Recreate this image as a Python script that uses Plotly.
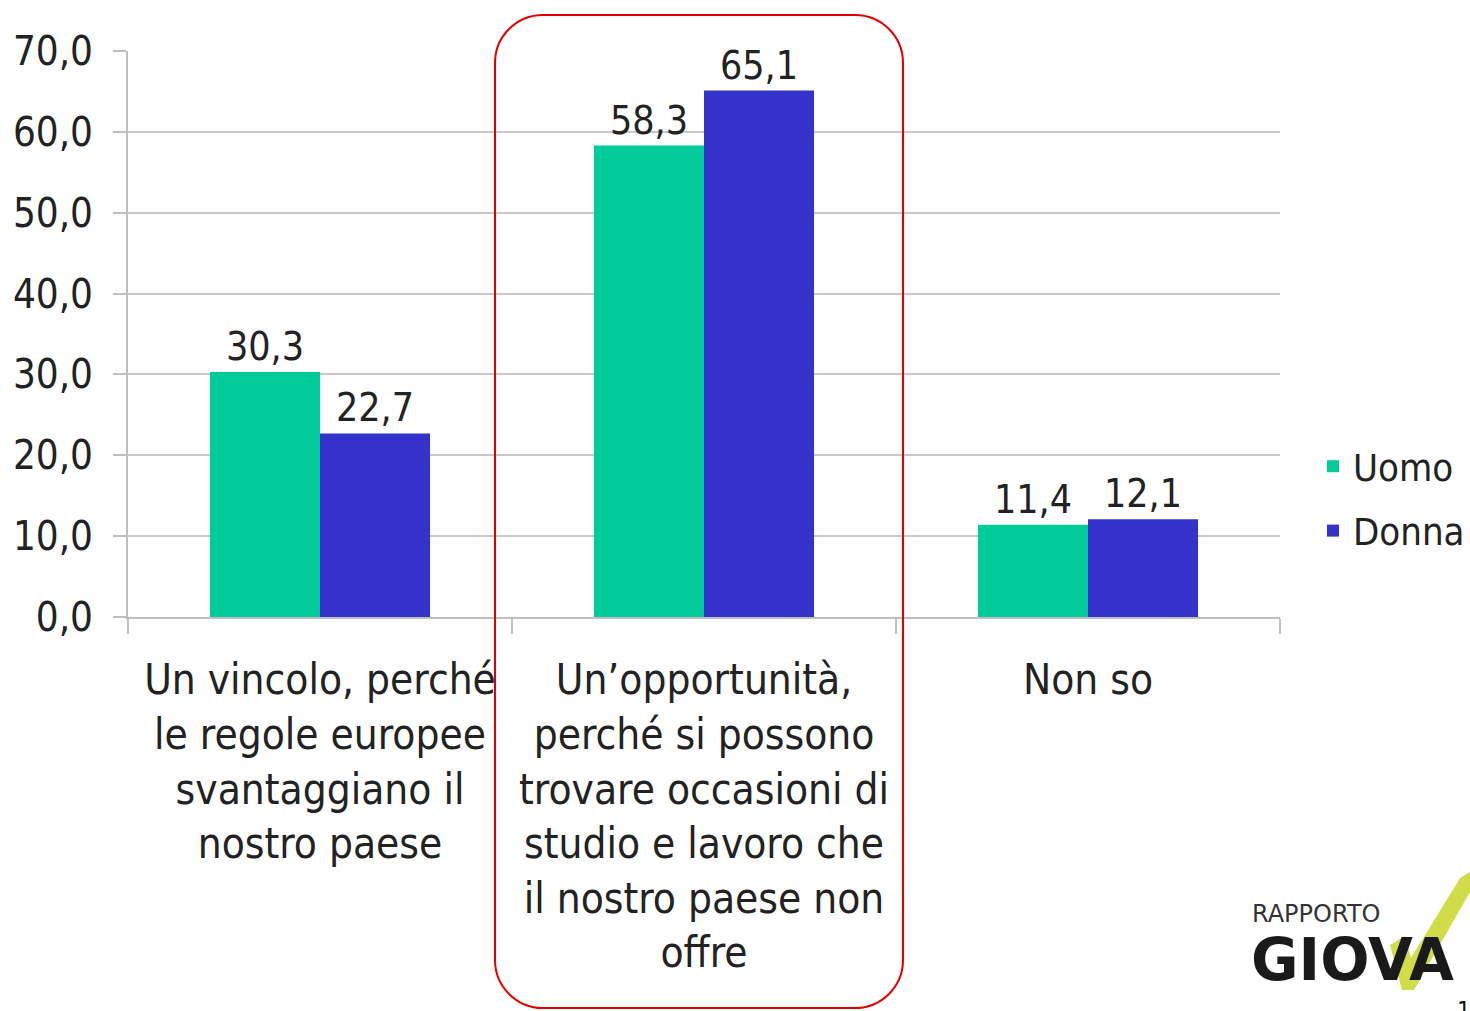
import plotly.graph_objects as go

categories = [
    "Un vincolo, perché<br>le regole europee<br>svantaggiano il<br>nostro paese",
    "Un’opportunità,<br>perché si possono<br>trovare occasioni di<br>studio e lavoro che<br>il nostro paese non<br>offre",
    "Non so",
]
uomo = [30.3, 58.3, 11.4]
donna = [22.7, 65.1, 12.1]
y_ticks = [0, 10, 20, 30, 40, 50, 60, 70]

W, H = 1470, 1011
L, R, T, B = 128, 1280, 51, 617
FONT = "DejaVu Sans Condensed, DejaVu Sans, sans-serif"

def px2x(px):
    return (px - L) / (R - L)

def py2y(py):
    return (B - py) / (B - T)

fig = go.Figure()
fig.add_trace(go.Bar(name="Uomo", x=categories, y=uomo, marker_color="#00CC99",
                     marker_line_width=0, text=uomo, texttemplate="%{y:.1f}",
                     textposition="outside", cliponaxis=False,
                     textfont=dict(size=39, color="#222222", family=FONT),
                     legendgroup="u"))
fig.add_trace(go.Bar(name="Donna", x=categories, y=donna, marker_color="#3333CC",
                     marker_line_width=0, text=donna, texttemplate="%{y:.1f}",
                     textposition="outside", cliponaxis=False,
                     textfont=dict(size=39, color="#222222", family=FONT),
                     legendgroup="d"))

# rounded red frame (pixel coords converted to paper)
x0, x1, y0, y1, r = 495, 903, 15, 1008, 48
k = 0.552 * r
pts = [
    ("M", [(x0 + r, y0)]),
    ("L", [(x1 - r, y0)]),
    ("C", [(x1 - r + k, y0), (x1, y0 + r - k), (x1, y0 + r)]),
    ("L", [(x1, y1 - r)]),
    ("C", [(x1, y1 - r + k), (x1 - r + k, y1), (x1 - r, y1)]),
    ("L", [(x0 + r, y1)]),
    ("C", [(x0 + r - k, y1), (x0, y1 - r + k), (x0, y1 - r)]),
    ("L", [(x0, y0 + r)]),
    ("C", [(x0, y0 + r - k), (x0 + r - k, y0), (x0 + r, y0)]),
]
path = ""
for cmd, ps in pts:
    path += cmd + " " + " ".join(f"{px2x(a):.5f},{py2y(b):.5f}" for a, b in ps) + " "
path += "Z"

# logo check mark
chk = [(1390, 945), (1405, 936), (1411, 958), (1460, 878), (1470, 872), (1470, 892), (1414, 990), (1402, 990)]
chk_path = "M " + " L ".join(f"{px2x(a):.5f},{py2y(b):.5f}" for a, b in chk) + " Z"

fig.update_layout(
    width=W, height=H,
    margin=dict(l=L, r=W - R, t=T, b=H - B, autoexpand=False),
    paper_bgcolor="white", plot_bgcolor="white",
    separators=",.",
    barmode="group", bargap=0.427, bargroupgap=0,
    font=dict(family=FONT, color="#222222"),
    showlegend=True,
    legend=dict(x=px2x(1313), y=py2y(435), xanchor="left", yanchor="top",
                font=dict(size=38, family=FONT, color="#222222"),
                tracegroupgap=12, bgcolor="rgba(0,0,0,0)"),
    xaxis=dict(showline=True, linecolor="#BFBFBF", linewidth=2,
               ticks="outside", tickson="boundaries", ticklen=15, tickcolor="#BFBFBF",
               tickwidth=2, tickfont=dict(size=42, family=FONT, color="#222222"),
               ticklabelstandoff=25, showgrid=False),
    yaxis=dict(range=[0, 70], tickvals=y_ticks, tickformat=".1f",
               showline=True, linecolor="#BFBFBF", linewidth=2,
               ticks="outside", ticklen=13, tickcolor="#BFBFBF", tickwidth=2,
               showgrid=True, gridcolor="#C8C8C8", gridwidth=1.5,
               tickfont=dict(size=40, family=FONT, color="#222222"),
               ticklabelstandoff=12, zeroline=False),
    shapes=[
        dict(type="path", xref="paper", yref="paper", path=path,
             line=dict(color="#E00000", width=2), fillcolor="rgba(0,0,0,0)"),
    ],
    annotations=[
        dict(text="RAPPORTO", xref="paper", yref="paper", x=px2x(1250), y=py2y(898),
             xanchor="left", yanchor="top", showarrow=False,
             font=dict(size=24, family="DejaVu Sans, sans-serif", color="#333333")),
        dict(text="<b>GIOVA</b>", xref="paper", yref="paper", x=px2x(1249), y=py2y(924),
             xanchor="left", yanchor="top", showarrow=False,
             font=dict(size=58, family="DejaVu Sans, sans-serif", color="#1a1a1a")),
        dict(text="1", xref="paper", yref="paper", x=px2x(1455), y=py2y(995),
             xanchor="left", yanchor="top", showarrow=False,
             font=dict(size=24, family=FONT, color="#111111")),
    ],
)
fig.add_shape(type="path", xref="paper", yref="paper", path=chk_path,
              line=dict(width=0), fillcolor="rgba(200,215,40,0.85)")

fig.write_html("out.html", config={"displayModeBar": False},
               post_script="document.body.style.margin='0';document.body.style.overflow='hidden';")
